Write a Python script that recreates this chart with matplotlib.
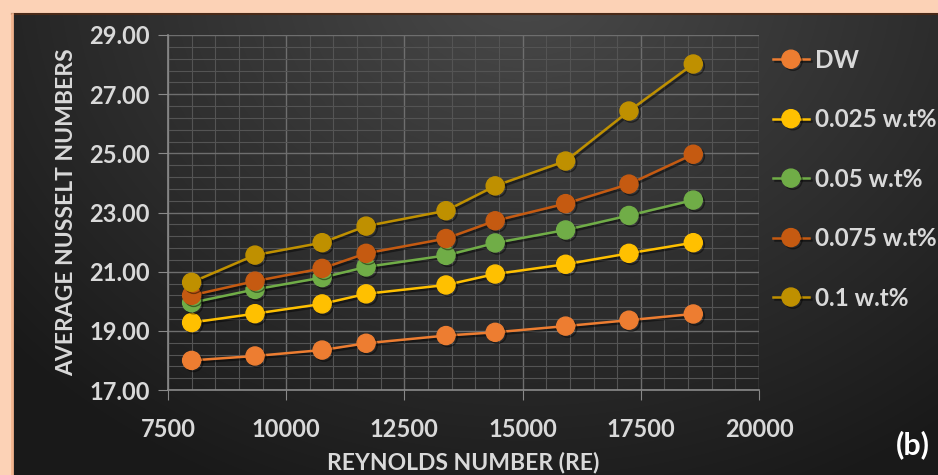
import numpy as np
import matplotlib
matplotlib.use("Agg")
import matplotlib.pyplot as plt
import matplotlib.patheffects as pe
from matplotlib.ticker import MultipleLocator, FormatStrFormatter

# Reynolds numbers and average Nusselt numbers per fluid
reynolds = [8000, 9340, 10760, 11690, 13380, 14420, 15910, 17250, 18610]
nu_dw = [18.00, 18.15, 18.35, 18.58, 18.84, 18.95, 19.16, 19.36, 19.57]
nu_0025 = [19.28, 19.58, 19.91, 20.25, 20.55, 20.92, 21.25, 21.62, 21.98]
nu_005 = [19.95, 20.40, 20.80, 21.16, 21.55, 21.97, 22.41, 22.90, 23.42]
nu_0075 = [20.20, 20.68, 21.11, 21.62, 22.12, 22.72, 23.30, 23.96, 24.97]
nu_01 = [20.64, 21.56, 21.98, 22.54, 23.06, 23.90, 24.74, 26.43, 28.02]

labels = ["DW", "0.025 w.t%", "0.05 w.t%", "0.075 w.t%", "0.1 w.t%"]
colors = ["#ED7D31", "#FFC000", "#70AD47", "#C55A11", "#BF9000"]
series = [nu_dw, nu_0025, nu_005, nu_0075, nu_01]

W, H = 938, 475
fig = plt.figure(figsize=(W / 100, H / 100), dpi=100)
fig.patch.set_facecolor("#fcd2b6")

# background: peach glow frame + dark radial gradient panel
bg = fig.add_axes([0, 0, 1, 1])
bg.set_xlim(0, W)
bg.set_ylim(H, 0)
bg.axis("off")
yy, xx = np.mgrid[0:H, 0:W]
r = np.hypot((xx - 520) / 620.0, (yy + 40) / 520.0)
shade = np.clip(0.29 - 0.17 * r, 0.10, 0.29)
panel = np.dstack([shade, shade, shade])
bg.imshow(panel, extent=[12, W, H, 14], aspect="auto", zorder=1)
bg.plot([12, W], [14, 14], color="#4a2a18", lw=1.5, zorder=2)
bg.plot([12, 12], [14, H], color="#f2b48e", lw=2, zorder=2)

ax = fig.add_axes([168 / W, (H - 390) / H, 591 / W, 355 / H])
ax.set_facecolor("none")

for y, c, lab in zip(series, colors, labels):
    ax.plot(reynolds, y, color=c, lw=1.8, marker="o", markersize=13,
            markeredgecolor=c, label=lab, zorder=3,
            path_effects=[pe.SimpleLineShadow(offset=(1.5, -1.5), alpha=0.45),
                          pe.Normal()])

ax.set_xlim(7500, 20000)
ax.set_ylim(17, 29)
ax.xaxis.set_major_locator(MultipleLocator(2500))
ax.xaxis.set_minor_locator(MultipleLocator(500))
ax.set_yticks(np.arange(17, 29.01, 2))
ax.set_yticks(np.arange(17, 29.01, 0.4), minor=True)
ax.yaxis.set_major_formatter(FormatStrFormatter("%.2f"))
ax.grid(which="major", color="#6e6e6e", lw=1.0)
ax.grid(which="minor", color="#545454", lw=0.8)
ax.set_axisbelow(True)

for s in ["top", "right"]:
    ax.spines[s].set_visible(False)
for s in ["left", "bottom"]:
    ax.spines[s].set_color("#8a8a8a")
    ax.spines[s].set_linewidth(1.2)

font = "Lato"
ax.tick_params(which="major", direction="out", length=7, color="#8a8a8a",
               labelcolor="#d9d9d9", labelsize=17, pad=6)
ax.tick_params(axis="x", which="major", pad=13)
ax.tick_params(which="minor", length=0)
for t in ax.get_xticklabels() + ax.get_yticklabels():
    t.set_fontfamily(font)
    t.set_fontweight("bold")

ax.set_xlabel("REYNOLDS NUMBER (RE)", fontsize=16.5, fontweight="bold",
              color="#d9d9d9", fontfamily=font, labelpad=8)
ax.set_ylabel("AVERAGE NUSSELT NUMBERS", fontsize=16.5, fontweight="bold",
              color="#d9d9d9", fontfamily=font, labelpad=9)

leg = fig.legend(loc="upper left", bbox_to_anchor=(763 / W, 1 - 39 / H),
                 frameon=False, handlelength=1.5, handletextpad=0.25,
                 labelspacing=1.5, borderaxespad=0,
                 prop={"family": font, "weight": "bold", "size": 17.5})
for t in leg.get_texts():
    t.set_color("#d9d9d9")

fig.text(930 / W, 1 - 445 / H, "(b)", fontsize=22, fontweight="bold",
         color="#ffffff", fontfamily=font, ha="right", va="center")

fig.savefig("out.png", dpi=100, facecolor=fig.get_facecolor())
